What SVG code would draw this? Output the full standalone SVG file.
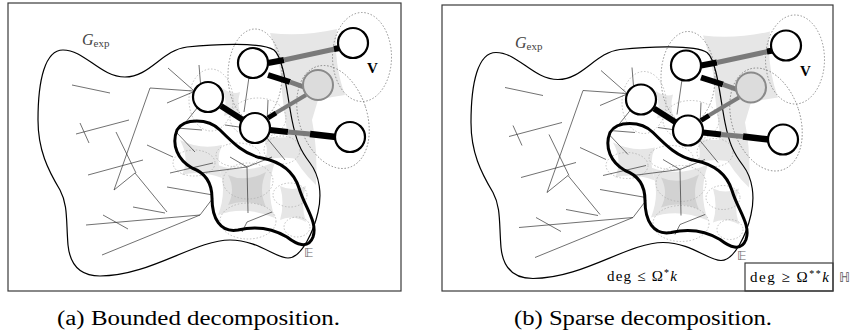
<svg xmlns="http://www.w3.org/2000/svg" width="853" height="333" viewBox="0 0 853 333">
<style>
.frame{fill:none;stroke:#3a3a3a;stroke-width:1.2}
.gexp{fill:none;stroke:#000;stroke-width:1.2}
.eset{fill:none;stroke:#000;stroke-width:3}
.tl{fill:none;stroke:#333;stroke-width:0.7}
.dot{fill:none;stroke:#777;stroke-width:0.8;stroke-dasharray:1.5 1.8}
.ldot{fill:none;stroke:#b0b0b0;stroke-width:0.8;stroke-dasharray:1.5 1.8}
.shade{fill:#e6e6e6}
.shade2{fill:#d2d2d2}
.node{fill:#fff;stroke:#000;stroke-width:2.2}
.gnode{fill:#dcdcdc;stroke:#8a8a8a;stroke-width:2}
.eb{stroke:#000;stroke-width:6;fill:none}
.eg{stroke:#7a7a7a;stroke-width:5;fill:none}
</style>
<rect class="frame" x="8" y="3" width="393" height="288"/>
<rect class="frame" x="442" y="5" width="391" height="286"/>
<g id="panelA">
  <g id="shading">
    <path class="shade" d="M270,33 Q302,37 337,29 Q333,62 345,95 Q330,97 318,100 L312,120 Q318,150 316,185 Q300,170 290,150 Q283,110 280,70 Q276,50 270,33 Z"/>
    <path class="shade" d="M222,88 Q232,95 240,92 Q236,105 242,118 Q232,112 224,116 Q228,102 222,88 Z"/>
    <path class="shade" d="M180,140 Q200,150 222,145 Q215,160 222,178 Q200,170 182,175 Q190,158 180,140 Z"/>
    <path class="shade" d="M218,165 Q245,175 275,162 Q265,190 275,218 Q245,205 218,215 Q228,190 218,165 Z"/>
    <path class="shade2" d="M228,175 Q246,183 266,172 Q258,190 266,207 Q246,198 228,205 Q236,190 228,175 Z"/>
    <path class="shade" d="M280,186 Q292,192 306,186 Q300,203 306,222 Q292,214 280,220 Q285,203 280,186 Z"/>
    <path class="shade" d="M262,135 Q280,140 300,135 Q296,148 302,160 Q282,155 265,160 Q270,148 262,135 Z"/>
  </g>
  <g id="dotted">
    <ellipse class="dot" cx="362" cy="57" rx="29.5" ry="44.5"/>
    <ellipse class="dot" cx="255" cy="75" rx="27" ry="46"/>
    <ellipse class="dot" cx="333" cy="117" rx="34" ry="53" transform="rotate(-18 333 117)"/>
    <ellipse class="ldot" cx="211" cy="100" rx="22" ry="31"/>
    <ellipse class="ldot" cx="258" cy="118" rx="28" ry="20"/>
    <ellipse class="ldot" cx="194" cy="163" rx="21" ry="13"/>
    <ellipse class="ldot" cx="238" cy="155" rx="22" ry="12"/>
    <ellipse class="ldot" cx="248" cy="181" rx="25" ry="18"/>
    <ellipse class="ldot" cx="248" cy="221" rx="28" ry="18"/>
    <ellipse class="ldot" cx="290" cy="195" rx="17" ry="12"/>
    <ellipse class="ldot" cx="297" cy="227" rx="13" ry="10"/>
    <ellipse class="ldot" cx="282" cy="150" rx="18" ry="14"/>
  </g>
  <g id="lines">
    <path class="tl" d="M72,85 L110,93"/>
    <path class="tl" d="M76,134 L129,120"/>
    <path class="tl" d="M80,123 L89,143"/>
    <path class="tl" d="M116,132 L136,173"/>
    <path class="tl" d="M193,91 L150,88 L114,190 L135,173 L167,212"/>
    <path class="tl" d="M147,145 L173,157"/>
    <path class="tl" d="M168,68 L193,90"/>
    <path class="tl" d="M167,103 L193,92"/>
    <path class="tl" d="M199,65 L202,102 L185,123"/>
    <path class="tl" d="M88,175 L143,160"/>
    <path class="tl" d="M133,207 L165,213"/>
    <path class="tl" d="M103,215 L128,229"/>
    <path class="tl" d="M86,225 L200,215"/>
    <path class="tl" d="M102,255 L200,215 L213,198"/>
    <path class="tl" d="M167,187 L213,195"/>
    <path class="tl" d="M170,173 L213,163"/>
    <path class="tl" d="M177,128 L202,130"/>
    <path class="tl" d="M177,133 L195,152"/>
    <path class="tl" d="M250,70 L244,112"/>
    <path class="tl" d="M200,173 L247,167 L272,157"/>
    <path class="tl" d="M247,167 L248,213"/>
    <path class="tl" d="M247,167 L230,157"/>
    <path class="tl" d="M225,125 L260,130"/>
    <path class="tl" d="M247,222 L272,212"/>
    <path class="tl" d="M247,222 L242,232"/>
    <path class="tl" d="M268,100 L267,123"/>
    <path class="tl" d="M262,132 L285,160"/>
    <path class="tl" d="M255,122 L263,122 L263,130" stroke-dasharray="2 1.5"/>
  </g>
  <path id="G_exp" class="gexp" d="M63,50 C85,50 100,77 125,77 C150,77 162,50 187,47 C215,44 262,42 274,50 C284,58 287,95 292,120 C296,140 300,150 310,163 C320,176 322,195 318,212 C314,230 302,258 288,258 C275,258 258,240 230,240 C195,240 150,276 100,276 C80,276 70,265 68,245 C66,220 68,205 60,190 C48,170 38,150 38,120 C38,80 45,50 63,50 Z"/>
  <path id="E_set" class="eset" d="M177,130 C184,118 208,118 220,130 C233,143 245,155 262,158 C282,162 294,172 299,188 C305,208 318,222 313,237 C308,250 296,244 287,237 C272,228 255,226 238,230 C220,233 212,218 212,198 C212,180 203,172 192,168 C178,160 171,145 177,130 Z"/>
  <g id="connectors">
    <path class="eb" d="M268,63 L284,60"/>
    <path class="eg" d="M284,60 L335,49"/>
    <path class="eb" d="M334,49 L340,48"/>
    <path class="eb" d="M268,75 L290,82"/>
    <path class="eg" d="M290,82 L304,87"/>
    <path class="eg" style="stroke-width:4" d="M306,95 L274,114"/>
    <path class="eb" style="stroke-width:5" d="M276,113 L268,118"/>
    <path class="eb" d="M270,130 L288,132"/>
    <path class="eg" d="M288,132 L310,134"/>
    <path class="eb" style="stroke-width:6.5" d="M310,134 L336,137"/>
    <path class="eb" d="M221,106 L243,120"/>
  </g>
  <g id="n1"><circle class="node" cx="353" cy="43" r="15"/></g>
  <g id="n2"><circle class="node" cx="253" cy="63" r="15"/></g>
  <g id="n3"><circle class="gnode" cx="318" cy="85" r="15"/></g>
  <g id="n4"><circle class="node" cx="208" cy="97" r="15"/></g>
  <g id="n5"><circle class="node" cx="255" cy="128" r="15"/></g>
  <g id="n6"><circle class="node" cx="350" cy="137" r="15"/></g>
  <text x="82" y="45" fill="#444" font-size="16" font-style="italic" font-family="Liberation Serif, serif">G<tspan font-size="11" font-style="normal" dy="2">exp</tspan></text>
  <text x="367" y="73" font-size="15" font-weight="bold" font-family="Liberation Serif, serif">V</text>
  <text x="304" y="257" fill="#666" font-size="13" font-family="DejaVu Sans, sans-serif">𝔼</text>
</g>
<use href="#panelA" transform="translate(433,2.5)"/>
<text x="607" y="281" font-size="15" font-family="Liberation Serif, serif" textLength="70" lengthAdjust="spacing">deg ≤ Ω<tspan dy="-5" font-size="10">*</tspan><tspan dy="5" font-style="italic">k</tspan></text>
<rect class="frame" x="745" y="263" width="88" height="28"/>
<text x="750" y="282" font-size="15" font-family="Liberation Serif, serif" textLength="79" lengthAdjust="spacing">deg ≥ Ω<tspan dy="-5" font-size="10">**</tspan><tspan dy="5" font-style="italic">k</tspan></text>
<text x="839" y="282" fill="#555" font-size="13" font-family="DejaVu Sans, sans-serif">ℍ</text>
<text x="57" y="325" font-size="20" font-family="Liberation Serif, serif" textLength="283" lengthAdjust="spacingAndGlyphs">(a) Bounded decomposition.</text>
<text x="514" y="325" font-size="20" font-family="Liberation Serif, serif" textLength="258" lengthAdjust="spacingAndGlyphs">(b) Sparse decomposition.</text>
</svg>
